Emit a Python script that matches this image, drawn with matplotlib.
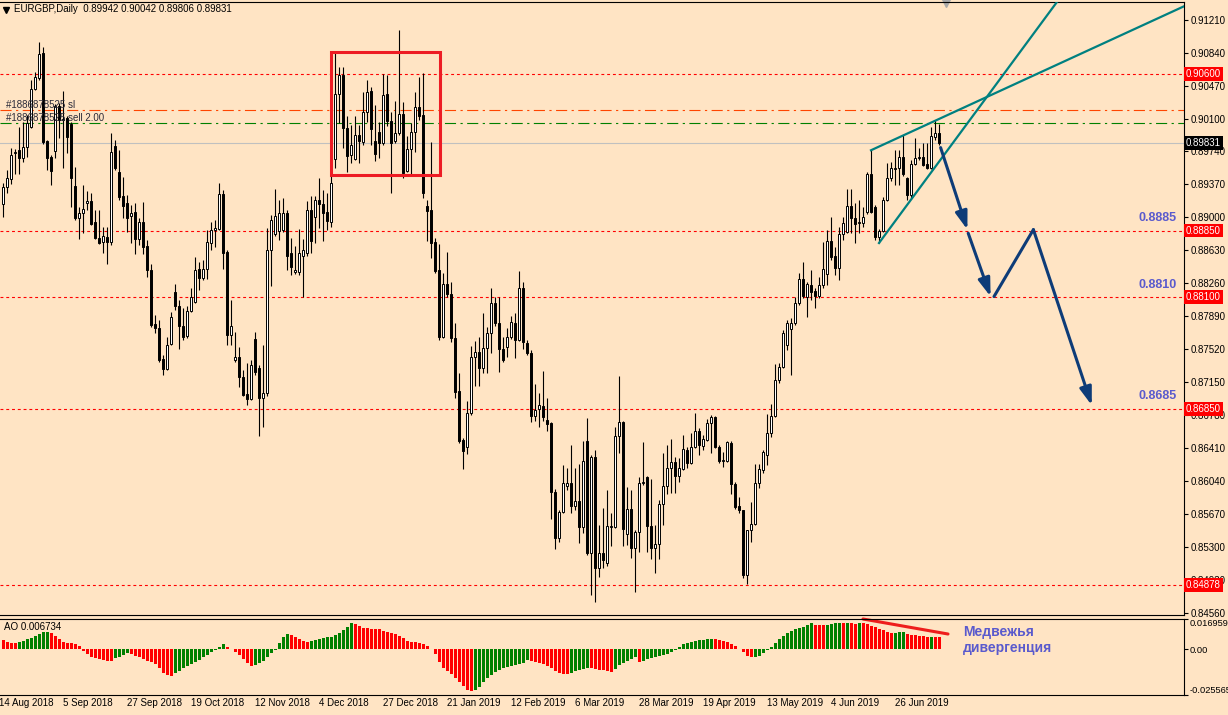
import numpy as np
import matplotlib
matplotlib.use("Agg")
import matplotlib.pyplot as plt
from matplotlib.patches import Rectangle

plt.rcParams['font.family'] = ['Liberation Sans', 'DejaVu Sans']

# daily candles, EURGBP, 14 Aug 2018 .. 11 Jul 2019
opens = [
    .8915, .8934, .8943, .8972, .8975, .8966, .8979, .9001, .9044, .9056,
    .9084, .8985, .8967, .8974, .9025, .9009, .9011, .9004, .8935, .8899,
    .8905, .8916, .8918, .8895, .8877, .8872, .8878, .8872, .8980, .8951,
    .8924, .8916, .8901, .8906, .8875, .8895, .8868, .8841, .8780, .8776,
    .8741, .8730, .8758, .8816, .8800, .8778, .8767, .8795, .8805, .8842,
    .8832, .8842, .8871, .8886, .8887, .8926, .8861, .8768, .8740, .8743,
    .8721, .8702, .8696, .8763, .8731, .8697, .8703, .8863, .8881, .8884,
    .8886, .8905, .8860, .8838, .8838, .8857, .8860, .8908, .8900, .8919,
    .8915, .8906, .8895, .8965, .9038, .9059, .9000, .8970, .8965, .8992,
    .8984, .9018, .9041, .8985, .8995, .8983, .9038, .9008, .8985, .8994,
    .9016, .8952, .8976, .8995, .9023, .9014, .8912, .8908, .8872, .8841,
    .8766, .8825, .8814, .8765, .8705, .8650, .8642, .8680, .8743, .8749,
    .8731, .8753, .8770, .8804, .8781, .8752, .8754, .8766, .8781, .8762,
    .8821, .8759, .8748, .8677, .8685, .8688, .8673, .8669, .8592, .8540,
    .8570, .8599, .8602, .8576, .8582, .8553, .8649, .8523, .8631, .8507,
    .8523, .8512, .8553, .8553, .8655, .8670, .8545, .8573, .8529, .8547,
    .8602, .8609, .8554, .8529, .8534, .8578, .8599, .8619, .8626, .8610,
    .8618, .8639, .8624, .8642, .8660, .8644, .8650, .8669, .8676, .8642,
    .8627, .8627, .8647, .8601, .8576, .8572, .8499, .8549, .8556, .8602,
    .8617, .8633, .8658, .8677, .8718, .8732, .8757, .8775, .8781, .8804,
    .8831, .8810, .8824, .8817, .8812, .8824, .8836, .8873, .8857, .8843,
    .8881, .8883, .8912, .8899, .8893, .8893, .8906, .8948, .8911, .8878,
    .8885, .8919, .8944, .8954, .8955, .8967, .8944, .8925, .8960, .8966,
    .8967, .8960, .8955, .8990, .89942,
]
highs = [
    .8938, .8953, .8977, .8976, .9001, .9007, .9014, .9054, .9063, .9096,
    .9091, .8987, .8970, .9027, .9028, .9041, .9013, .9007, .8956, .8911,
    .8936, .8929, .8927, .8908, .8908, .8889, .8889, .8994, .8987, .8975,
    .8945, .8925, .8914, .8916, .8899, .8917, .8874, .8847, .8790, .8785,
    .8745, .8766, .8794, .8825, .8807, .8798, .8800, .8821, .8855, .8850,
    .8852, .8886, .8895, .8897, .8938, .8930, .8863, .8807, .8771, .8754,
    .8729, .8737, .8740, .8771, .8734, .8757, .8888, .8902, .8932, .8919,
    .8922, .8908, .8877, .8868, .8887, .8876, .8918, .8924, .8924, .8944,
    .8930, .8927, .8967, .9085, .9068, .9068, .9013, .9003, .9013, .9003,
    .9040, .9054, .9046, .9026, .9007, .9060, .9059, .9018, .9030, .9110,
    .9029, .8991, .9006, .9040, .9057, .9062, .8919, .8984, .8877, .8870,
    .8837, .8861, .8827, .8781, .8725, .8652, .8694, .8756, .8761, .8766,
    .8792, .8777, .8821, .8810, .8811, .8766, .8776, .8789, .8792, .8840,
    .8827, .8762, .8751, .8713, .8703, .8727, .8697, .8670, .8595, .8572,
    .8622, .8619, .8645, .8619, .8623, .8649, .8675, .8633, .8639, .8555,
    .8574, .8594, .8568, .8665, .8722, .8672, .8597, .8594, .8549, .8609,
    .8648, .8610, .8607, .8555, .8583, .8636, .8645, .8651, .8631, .8630,
    .8656, .8642, .8658, .8680, .8664, .8656, .8674, .8678, .8677, .8645,
    .8637, .8649, .8649, .8603, .8586, .8572, .8549, .8581, .8623, .8623,
    .8639, .8679, .8690, .8735, .8736, .8774, .8785, .8787, .8810, .8837,
    .8850, .8827, .8841, .8821, .8833, .8872, .8886, .8900, .8867, .8889,
    .8900, .8932, .8932, .8916, .8919, .8911, .8951, .8975, .8914, .8887,
    .8923, .8961, .8962, .8975, .8975, .8992, .8945, .8964, .8989, .8977,
    .8983, .8983, .9001, .9009, .90042,
]
lows = [
    .8900, .8927, .8937, .8948, .8948, .8962, .8967, .9000, .9043, .9054,
    .8982, .8953, .8936, .8966, .8989, .8955, .8972, .8911, .8897, .8875,
    .8882, .8908, .8891, .8875, .8870, .8860, .8847, .8869, .8953, .8919,
    .8899, .8883, .8871, .8859, .8869, .8859, .8833, .8777, .8770, .8738,
    .8723, .8729, .8757, .8796, .8752, .8762, .8764, .8794, .8804, .8818,
    .8830, .8831, .8863, .8866, .8886, .8842, .8757, .8757, .8738, .8710,
    .8700, .8689, .8695, .8723, .8655, .8665, .8700, .8823, .8879, .8874,
    .8883, .8841, .8835, .8836, .8835, .8810, .8857, .8860, .8871, .8888,
    .8873, .8886, .8889, .8955, .9006, .8977, .8951, .8961, .8964, .8961,
    .8981, .9007, .8981, .8963, .8966, .8981, .9002, .8927, .8983, .8992,
    .8944, .8951, .8947, .8973, .9009, .8921, .8873, .8854, .8837, .8762,
    .8765, .8811, .8760, .8697, .8647, .8618, .8634, .8678, .8711, .8711,
    .8725, .8725, .8748, .8778, .8726, .8738, .8743, .8763, .8742, .8761,
    .8752, .8745, .8670, .8671, .8665, .8672, .8660, .8562, .8528, .8536,
    .8568, .8594, .8568, .8572, .8535, .8546, .8521, .8476, .8469, .8497,
    .8507, .8509, .8531, .8552, .8636, .8531, .8532, .8518, .8480, .8525,
    .8600, .8525, .8517, .8501, .8517, .8555, .8590, .8591, .8591, .8603,
    .8617, .8619, .8623, .8641, .8633, .8639, .8649, .8636, .8641, .8624,
    .8620, .8626, .8590, .8573, .8568, .8496, .8489, .8536, .8555, .8596,
    .8613, .8622, .8654, .8676, .8714, .8731, .8751, .8723, .8779, .8801,
    .8809, .8788, .8807, .8798, .8809, .8821, .8824, .8852, .8835, .8830,
    .8874, .8882, .8882, .8871, .8882, .8889, .8904, .8905, .8874, .8871,
    .8883, .8918, .8941, .8936, .8936, .8946, .8919, .8920, .8958, .8964,
    .8957, .8954, .8954, .8987, .89806,
]
closes = [
    .8934, .8944, .8970, .8973, .8966, .8979, .9006, .9044, .9057, .9083,
    .8984, .8966, .8952, .9025, .9009, .9010, .8990, .8944, .8899, .8905,
    .8909, .8918, .8892, .8877, .8871, .8879, .8872, .8973, .8955, .8923,
    .8912, .8899, .8905, .8875, .8895, .8867, .8841, .8779, .8776, .8740,
    .8730, .8757, .8788, .8800, .8778, .8766, .8795, .8810, .8841, .8832,
    .8842, .8872, .8886, .8888, .8926, .8860, .8768, .8778, .8743, .8721,
    .8701, .8696, .8734, .8726, .8697, .8703, .8863, .8897, .8901, .8905,
    .8905, .8857, .8844, .8841, .8860, .8863, .8908, .8873, .8919, .8915,
    .8905, .8896, .8938, .9038, .9059, .9000, .8969, .8981, .8992, .8985,
    .9018, .9040, .8999, .8971, .8983, .9037, .9008, .8983, .8994, .9016,
    .8949, .8976, .8996, .9023, .9013, .8927, .8907, .8871, .8840, .8766,
    .8825, .8814, .8765, .8704, .8649, .8638, .8680, .8743, .8749, .8731,
    .8753, .8770, .8804, .8781, .8752, .8740, .8766, .8782, .8762, .8821,
    .8760, .8748, .8677, .8684, .8689, .8676, .8668, .8592, .8540, .8570,
    .8602, .8602, .8576, .8582, .8553, .8627, .8523, .8631, .8507, .8523,
    .8516, .8554, .8554, .8655, .8670, .8550, .8573, .8529, .8547, .8602,
    .8603, .8554, .8529, .8534, .8578, .8599, .8619, .8626, .8610, .8619,
    .8640, .8624, .8642, .8660, .8645, .8651, .8669, .8676, .8642, .8627,
    .8628, .8648, .8601, .8575, .8572, .8499, .8549, .8556, .8602, .8618,
    .8637, .8658, .8677, .8718, .8732, .8770, .8781, .8781, .8804, .8831,
    .8812, .8825, .8816, .8812, .8824, .8842, .8873, .8855, .8843, .8881,
    .8893, .8912, .8899, .8892, .8895, .8900, .8948, .8906, .8878, .8885,
    .8919, .8944, .8955, .8955, .8967, .8948, .8925, .8960, .8966, .8967,
    .8958, .8955, .8991, .8994, .89831,
]
# Awesome Oscillator histogram
ao_values = [
    .0052, .0043, .0037, .0035, .0043, .0048, .0056, .0065, .0075, .0086,
    .0095, .0097, .0090, .0075, .0056, .0039, .0035, .0034, .0032, .0019,
    -.0007, -.0026, -.0041, -.0050, -.0056, -.0060, -.0063, -.0067, -.0050, -.0041,
    -.0034, -.0022, -.0028, -.0037, -.0045, -.0056, -.0065, -.0071, -.0082, -.0106,
    -.0131, -.0144, -.0149, -.0131, -.0119, -.0106, -.0093, -.0082, -.0071, -.0060,
    -.0045, -.0032, -.0015, -.0002, .0013, .0028, .0015, .0000, -.0013, -.0032,
    -.0056, -.0078, -.0093, -.0088, -.0075, -.0063, -.0045, -.0022, -.0004, .0034,
    .0067, .0086, .0082, .0071, .0056, .0048, .0043, .0048, .0052, .0058,
    .0062, .0067, .0071, .0080, .0093, .0108, .0127, .0149, .0142, .0131,
    .0121, .0117, .0116, .0114, .0112, .0104, .0095, .0090, .0084, .0075,
    .0062, .0045, .0043, .0041, .0034, .0030, .0019, .0004, -.0026, -.0069,
    -.0106, -.0119, -.0138, -.0162, -.0181, -.0205, -.0228, -.0233, -.0227, -.0209,
    -.0185, -.0162, -.0144, -.0125, -.0116, -.0106, -.0097, -.0091, -.0088, -.0084,
    -.0075, -.0060, -.0063, -.0069, -.0074, -.0082, -.0093, -.0106, -.0119, -.0131,
    -.0136, -.0140, -.0131, -.0121, -.0114, -.0108, -.0103, -.0106, -.0110, -.0114,
    -.0117, -.0121, -.0125, -.0110, -.0088, -.0075, -.0063, -.0052, -.0045, -.0069,
    -.0065, -.0056, -.0050, -.0045, -.0037, -.0032, -.0028, -.0015, -.0004, .0015,
    .0028, .0037, .0041, .0045, .0052, .0054, .0058, .0060, .0058, .0054,
    .0047, .0039, .0032, .0019, .0004, -.0015, -.0037, -.0043, -.0041, -.0035,
    -.0022, -.0004, .0015, .0037, .0056, .0075, .0090, .0104, .0114, .0121,
    .0127, .0136, .0145, .0138, .0136, .0134, .0138, .0142, .0145, .0147,
    .0145, .0147, .0145, .0144, .0147, .0145, .0140, .0132, .0123, .0116,
    .0108, .0099, .0093, .0094, .0095, .0096, .0084, .0082, .0080, .0076,
    .0073, .0069, .0071, .0068, .006734,
]

date_labels = ["14 Aug 2018", "5 Sep 2018", "27 Sep 2018", "19 Oct 2018", "12 Nov 2018",
               "4 Dec 2018", "27 Dec 2018", "21 Jan 2019", "12 Feb 2019", "6 Mar 2019",
               "28 Mar 2019", "19 Apr 2019", "13 May 2019", "4 Jun 2019", "26 Jun 2019"]
date_bars = [0, 16, 32, 48, 64, 80, 96, 112, 128, 144, 160, 176, 192, 208, 224]

price_ticks = [0.91210, 0.90840, 0.90470, 0.90100, 0.89740, 0.89370, 0.89000, 0.88630,
               0.88260, 0.87890, 0.87520, 0.87150, 0.86780, 0.86410, 0.86040, 0.85670,
               0.85300, 0.84930, 0.84560]
levels = [0.90600, 0.88850, 0.88100, 0.86850, 0.84878]
targets = [0.8885, 0.8810, 0.8685]
sl_price = 0.9020
entry_price = 0.9005
last_price = 0.89831

# drawn objects
box_bars = (81.9, 109.3)
box_prices = (0.89472, 0.90851)
wedge_top = ([217, 233], [0.8975, 0.9008])
wedge_bottom = ([219, 239.25], [0.8871, 0.8994])
path_x = [234.4, 241.1, 241.3, 246.9, 247.75, 257.6, 272.2]
path_y = [0.8978, 0.8886, 0.8882, 0.8811, 0.8811, 0.8886, 0.8689]
div_x = [215, 236.25]
div_y = [0.01696, 0.00856]

BG = '#FFE4C4'
W, H = 1228, 715
fig = plt.figure(figsize=(W / 100, H / 100), dpi=100, facecolor=BG)
ax = fig.add_axes([0, 1 - 615 / H, 1184 / W, 613 / H], facecolor=BG)
ao = fig.add_axes([0, 1 - 695 / H, 1184 / W, 76 / H], facecolor=BG)

o, hi, lo, c = (np.array(v) for v in (opens, highs, lows, closes))
x = np.arange(len(o))
XLIM = (-0.75, 295.25)

# candles
ax.vlines(x, lo, hi, color='black', lw=0.8, zorder=3)
up = c >= o
ax.bar(x, np.abs(c - o), bottom=np.minimum(o, c), width=0.55,
       color=np.where(up, 'white', 'black'), edgecolor='black', linewidth=0.7, zorder=4)

# horizontal levels
for lv in levels:
    ax.axhline(lv, color='red', lw=0.8, dashes=(2.6, 2.6), zorder=2)
ax.axhline(sl_price, color='#FF4500', lw=0.8, dashes=(10, 4, 2, 4), zorder=2)
ax.axhline(entry_price, color='#008000', lw=0.8, dashes=(10, 4, 2, 4), zorder=2)
ax.axhline(last_price, color='#C0C0C0', lw=0.8, zorder=1)

ytr = ax.get_yaxis_transform()
ax.text(6 / 1184, sl_price, '#1886878525 sl', transform=ytr, fontsize=7,
        color='#2B2B3A', va='bottom', zorder=6)
ax.text(6 / 1184, entry_price, '#1886878525 sell 2.00', transform=ytr, fontsize=7,
        color='#2B2B3A', va='bottom', zorder=6)

# consolidation box
ax.add_patch(Rectangle((box_bars[0], box_prices[0]), box_bars[1] - box_bars[0],
                       box_prices[1] - box_prices[0], fill=False, ec='#ED1C24', lw=2.2, zorder=5))

# rising wedge
for (bx, by), x0 in ((wedge_top, wedge_top[0][0]), (wedge_bottom, wedge_bottom[0][0])):
    k = (by[1] - by[0]) / (bx[1] - bx[0])
    ax.plot([x0, 300], [by[0], by[0] + k * (300 - x0)], color='#008080', lw=1.6, zorder=6)

# projected path
navy = '#0E3C78'
def arrow(i, j):
    ax.annotate('', xy=(path_x[j], path_y[j]), xytext=(path_x[i], path_y[i]),
                arrowprops=dict(arrowstyle='-|>,head_length=0.9,head_width=0.3', color=navy,
                                lw=2.2, shrinkA=0, shrinkB=0, mutation_scale=12), zorder=7)
arrow(0, 1)
arrow(2, 3)
ax.plot(path_x[4:6], path_y[4:6], color=navy, lw=2.2, solid_capstyle='round', zorder=7)
arrow(5, 6)

for t in targets:
    ax.annotate(f'{t:.4f}', xy=(1177 / 1184, t), xycoords=ytr, xytext=(0, 9),
                textcoords='offset points', ha='right', va='center', fontsize=9,
                fontweight='bold', color='#5A5ACD', zorder=8)

# price axis
ax.set_xlim(*XLIM)
ax.set_ylim(0.8454, 0.91412)
ax.set_xticks([])
ax.yaxis.tick_right()
ax.set_yticks(price_ticks)
ax.set_yticklabels([f'{t:.5f}' for t in price_ticks])
ax.tick_params(axis='y', length=3, width=0.8, pad=2, labelsize=7)
ax.spines['left'].set_visible(False)
for s in ('top', 'bottom', 'right'):
    ax.spines[s].set_linewidth(0.8)

for lv in levels:
    ax.text(1186 / 1184, lv, f'{lv:.5f}', transform=ytr, ha='left', va='center', fontsize=7,
            color='white', bbox=dict(boxstyle='square,pad=0.2', fc='red', ec='none'),
            clip_on=False, zorder=10)
ax.text(1186 / 1184, last_price, f'{last_price:.5f}', transform=ytr, ha='left', va='center',
        fontsize=7, color='white', bbox=dict(boxstyle='square,pad=0.2', fc='black', ec='none'),
        clip_on=False, zorder=10)

ax.plot([946 / 1184], [1 - 1 / 613], transform=ax.transAxes, marker='v', ms=6,
        color='#A8A8A8', clip_on=False)
ax.plot([6 / 1184], [1 - 8 / 613], transform=ax.transAxes, marker='v', ms=4,
        color='black', clip_on=False)
fig.text(14 / W, 1 - 9 / H, 'EURGBP,Daily  0.89942 0.90042 0.89806 0.89831',
         fontsize=7, va='center')

# AO panel
av = np.array(ao_values)
cols = ['red'] + ['#008000' if av[i] > av[i - 1] else 'red' for i in range(1, len(av))]
ao.bar(x, av, width=0.75, color=cols)
ao.set_xlim(*XLIM)
ao.set_ylim(-0.025565, 0.016959)
ao.set_xticks([])
ao.yaxis.tick_right()
ao.set_yticks([0.016959, 0.0, -0.025565])
ao.set_yticklabels(['0.016959', '0.00', '-0.025565'])
ao.tick_params(axis='y', length=3, width=0.8, pad=1, labelsize=6.7)
lbls = ao.get_yticklabels()
lbls[0].set_va('top')
lbls[2].set_va('bottom')
ao.spines['left'].set_visible(False)
for s in ('top', 'bottom', 'right'):
    ao.spines[s].set_linewidth(0.8)

ao.text(4 / 1184, 1 - 8 / 76, 'AO 0.006734', transform=ao.transAxes, fontsize=7, va='center')
ao.plot(div_x, div_y, color='#EE1C1C', lw=2.2, solid_capstyle='round', clip_on=False)
ao.text(963 / 1184, (695 - 632) / 76, 'Медвежья', transform=ao.transAxes, fontsize=10,
        fontweight='bold', color='#5A5ACD', va='center')
ao.text(963 / 1184, (695 - 648) / 76, 'дивергенция', transform=ao.transAxes, fontsize=10,
        fontweight='bold', color='#5A5ACD', va='center')

xtr = ao.get_xaxis_transform()
for pos, lab in zip(date_bars, date_labels):
    ao.text(pos - 1, -8 / 76, lab, transform=xtr, ha='left', va='center', fontsize=7,
            clip_on=False)

fig.savefig('out.png', dpi=100, facecolor=BG)
